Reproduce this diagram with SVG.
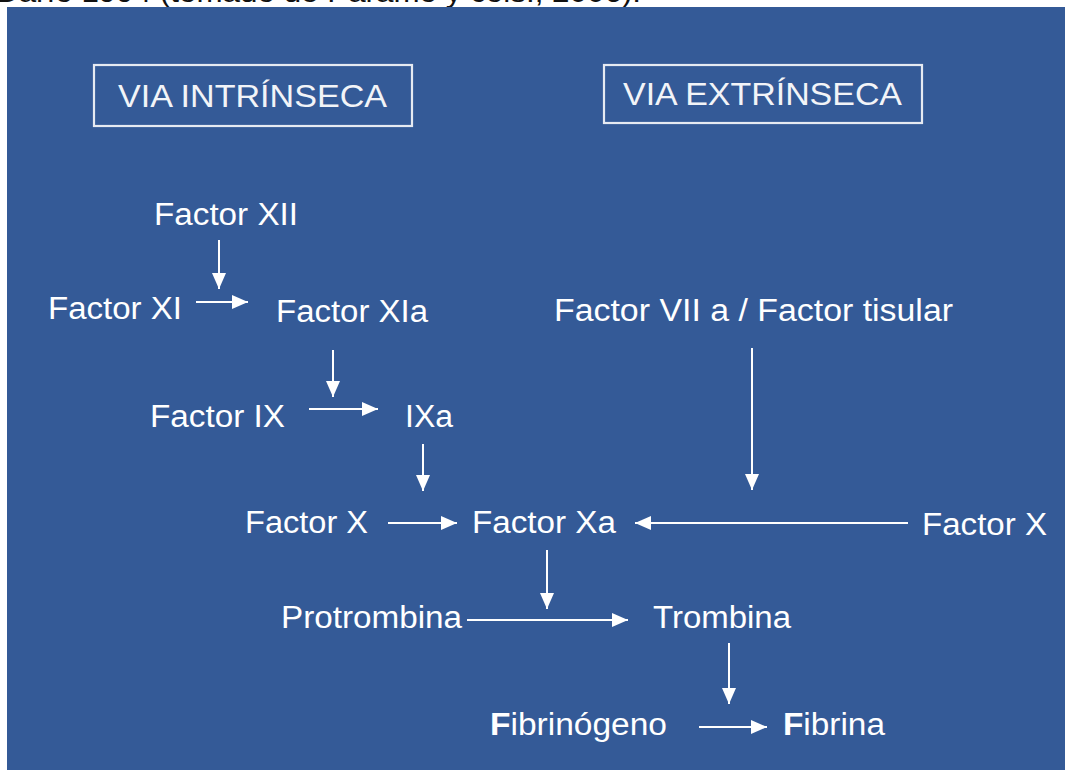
<svg xmlns="http://www.w3.org/2000/svg" width="1065" height="770" viewBox="0 0 1065 770">
<style>
.t{font-family:"Liberation Sans",Arial,sans-serif;font-size:31px;fill:#ffffff}
.h{font-family:"Liberation Sans",Arial,sans-serif;font-size:32px;fill:#f2f4f8}
.box{fill:none;stroke:#e6eaf2;stroke-width:2.2}
.c{stroke:#ffffff;stroke-width:2;fill:none}
.cap{font-family:"Liberation Sans",Arial,sans-serif;font-size:28px;fill:#111111}
</style>
<defs>
<marker id="ah" markerUnits="userSpaceOnUse" markerWidth="16" markerHeight="14" refX="16" refY="7" orient="auto">
<path d="M0,0 L16,7 L0,14 Z" fill="#ffffff"/>
</marker>
</defs>
<rect x="0" y="0" width="1065" height="770" fill="#ffffff"/>
<text class="cap" x="-4" y="2" textLength="645" lengthAdjust="spacingAndGlyphs">Darío 1994 (tomado de Páramo y cols., 2006).</text>
<rect x="7" y="7" width="1058" height="763" fill="#345a97"/>

<g id="via-intrinseca">
<rect class="box" x="94" y="65" width="318" height="61"/>
<text class="h" x="118" y="107" textLength="269" lengthAdjust="spacingAndGlyphs">VIA INTRÍNSECA</text>
</g>
<g id="via-extrinseca">
<rect class="box" x="604" y="65" width="318" height="58"/>
<text class="h" x="623" y="105" textLength="279" lengthAdjust="spacingAndGlyphs">VIA EXTRÍNSECA</text>
</g>

<g id="factor-xii"><text class="t" x="154" y="225" textLength="144" lengthAdjust="spacingAndGlyphs">Factor XII</text></g>
<g id="factor-xi"><text class="t" x="48" y="319" textLength="134" lengthAdjust="spacingAndGlyphs">Factor XI</text></g>
<g id="factor-xia"><text class="t" x="276" y="322" textLength="152" lengthAdjust="spacingAndGlyphs">Factor XIa</text></g>
<g id="factor-viia"><text class="t" x="554" y="321" textLength="399" lengthAdjust="spacingAndGlyphs">Factor VII a / Factor tisular</text></g>
<g id="factor-ix"><text class="t" x="150" y="427" textLength="135" lengthAdjust="spacingAndGlyphs">Factor IX</text></g>
<g id="ixa"><text class="t" x="405" y="427" textLength="48" lengthAdjust="spacingAndGlyphs">IXa</text></g>
<g id="factor-x-left"><text class="t" x="245" y="533" textLength="123" lengthAdjust="spacingAndGlyphs">Factor X</text></g>
<g id="factor-xa"><text class="t" x="472" y="533" textLength="144" lengthAdjust="spacingAndGlyphs">Factor Xa</text></g>
<g id="factor-x-right"><text class="t" x="922" y="535" textLength="125" lengthAdjust="spacingAndGlyphs">Factor X</text></g>
<g id="protrombina"><text class="t" x="281" y="628" textLength="181" lengthAdjust="spacingAndGlyphs">Protrombina</text></g>
<g id="trombina"><text class="t" x="653" y="628" textLength="138" lengthAdjust="spacingAndGlyphs">Trombina</text></g>
<g id="fibrinogeno"><text class="t" x="490" y="735" textLength="177" lengthAdjust="spacingAndGlyphs"><tspan font-weight="bold">F</tspan>ibrinógeno</text></g>
<g id="fibrina"><text class="t" x="783" y="735" textLength="102" lengthAdjust="spacingAndGlyphs"><tspan font-weight="bold">F</tspan>ibrina</text></g>

<g id="connectors">
<line class="c" x1="219" y1="240" x2="219" y2="289" marker-end="url(#ah)"/>
<line class="c" x1="196" y1="302" x2="248" y2="302" marker-end="url(#ah)"/>
<line class="c" x1="333" y1="350" x2="333" y2="397" marker-end="url(#ah)"/>
<line class="c" x1="309" y1="409" x2="378" y2="409" marker-end="url(#ah)"/>
<line class="c" x1="423" y1="444" x2="423" y2="491" marker-end="url(#ah)"/>
<line class="c" x1="388" y1="523" x2="457" y2="523" marker-end="url(#ah)"/>
<line class="c" x1="752" y1="348" x2="752" y2="490" marker-end="url(#ah)"/>
<line class="c" x1="908" y1="523" x2="635" y2="523" marker-end="url(#ah)"/>
<line class="c" x1="547" y1="550" x2="547" y2="609" marker-end="url(#ah)"/>
<line class="c" x1="467" y1="620" x2="628" y2="620" marker-end="url(#ah)"/>
<line class="c" x1="729" y1="643" x2="729" y2="704" marker-end="url(#ah)"/>
<line class="c" x1="699" y1="727" x2="767" y2="727" marker-end="url(#ah)"/>
</g>
</svg>
